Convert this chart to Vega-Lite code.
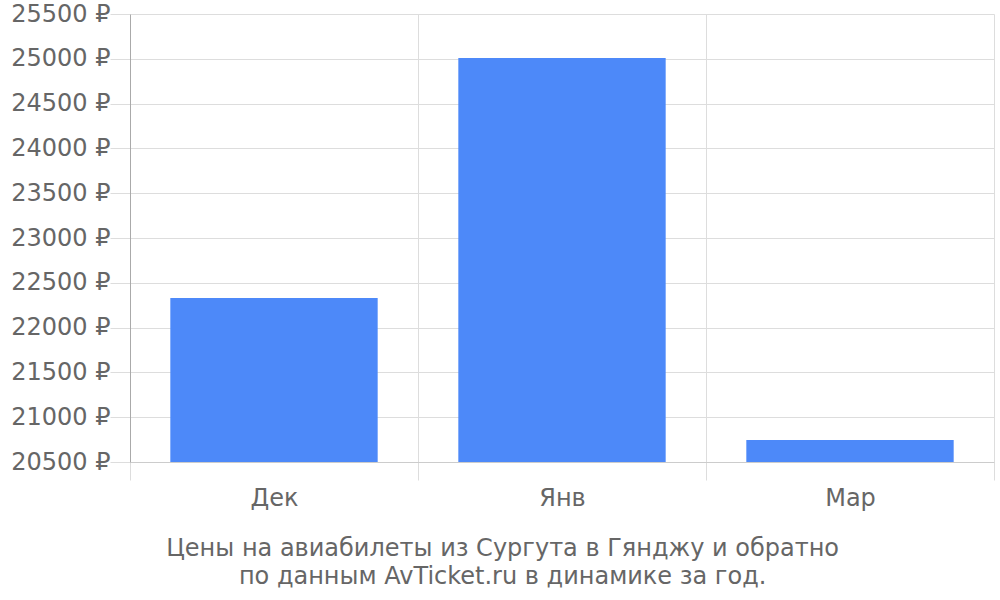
{
  "$schema": "https://vega.github.io/schema/vega-lite/v6.json",
  "width": 864,
  "height": 448,
  "autosize": {"type": "none"},
  "padding": {"left": 130, "top": 14, "right": 6, "bottom": 138},
  "background": "white",
  "title": {
    "text": ["Цены на авиабилеты из Сургута в Гянджу и обратно", "по данным AvTicket.ru в динамике за год."],
    "orient": "bottom",
    "anchor": "middle",
    "frame": "bounds",
    "font": "DejaVu Sans",
    "fontSize": 24,
    "fontWeight": "normal",
    "color": "#666666",
    "lineHeight": 28,
    "offset": 27
  },
  "data": {
    "values": [
      {"month": "Дек", "price": 22330},
      {"month": "Янв", "price": 25010},
      {"month": "Мар", "price": 20745}
    ]
  },
  "mark": {"type": "bar", "color": "#4d89f9", "clip": true, "width": {"band": 0.72}},
  "encoding": {
    "x": {
      "field": "month",
      "type": "nominal",
      "sort": null,
      "scale": {"paddingInner": 0, "paddingOuter": 0},
      "axis": {
        "title": null,
        "labelAngle": 0,
        "labelFont": "DejaVu Sans",
        "labelFontSize": 24,
        "labelColor": "#666666",
        "labelPadding": 6,
        "grid": true,
        "gridColor": "#dddddd",
        "tickBand": "extent",
        "tickColor": "#dddddd",
        "tickSize": 18,
        "domain": true,
        "domainColor": "#cccccc"
      }
    },
    "y": {
      "field": "price",
      "type": "quantitative",
      "scale": {"domain": [20500, 25500], "zero": false, "nice": false},
      "axis": {
        "title": null,
        "values": [20500, 21000, 21500, 22000, 22500, 23000, 23500, 24000, 24500, 25000, 25500],
        "labelExpr": "format(datum.value, 'd') + ' ₽'",
        "labelFont": "DejaVu Sans",
        "labelFontSize": 24,
        "labelColor": "#666666",
        "labelPadding": 0,
        "grid": true,
        "gridColor": "#dddddd",
        "tickColor": "#dddddd",
        "tickSize": 20,
        "domainColor": "#aaaaaa"
      }
    }
  },
  "config": {
    "view": {"stroke": null}
  }
}
